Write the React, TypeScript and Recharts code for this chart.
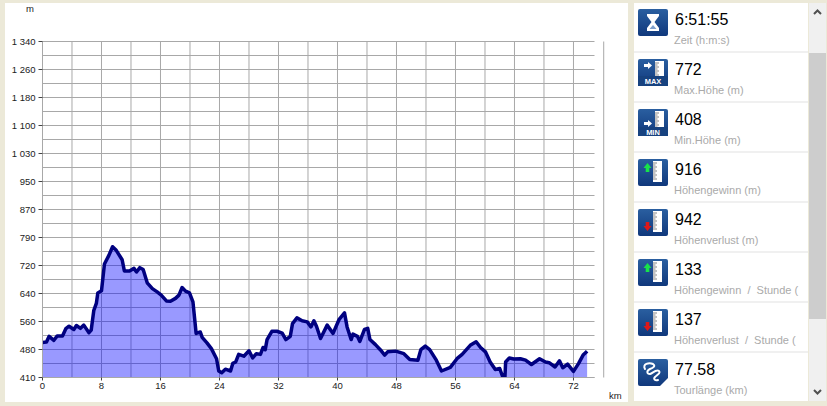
import React from 'react';
import { ComposedChart, Area, XAxis, YAxis, CartesianGrid, ReferenceLine } from 'recharts';

const distanceKm = [
  0, 0.54, 0.9, 1.54, 2.0, 2.71, 3.16, 3.6, 4.25, 4.6, 5.15, 5.6, 6.3, 6.6, 6.96, 7.3, 7.5, 8.0, 8.4, 9.0, 9.5, 10.0, 10.8, 11.1, 11.8, 12.4, 12.75, 13.2, 13.65, 14.2, 14.9, 15.55, 16.1, 16.8, 17.35, 18.03, 18.5, 18.93, 19.4, 19.93, 20.4, 20.65, 20.83, 21.4, 21.65, 22.3, 22.9, 23.6, 23.9, 24.3, 24.8, 25.5, 25.8, 26.2, 26.6, 27.3, 28.0, 28.5, 29, 29.55, 29.9, 30.2, 30.45, 31.1, 31.8, 32.5, 33.0, 33.6, 33.9, 34.5, 35.2, 35.9, 36.4, 36.8, 37.15, 37.7, 38.6, 39.4, 40.2, 40.95, 41.3, 41.85, 42.1, 42.7, 43.03, 43.66, 44.1, 44.4, 45.15, 45.8, 46.4, 46.8, 47.9, 49, 49.8, 50.9, 51.3, 51.9, 52.5, 53.4, 54.1, 55.3, 56.2, 56.9, 58, 58.8, 59.4, 60.06, 60.7, 61.4, 62, 62.4, 62.7, 62.8, 63.3, 63.9, 64.8, 65.5, 66.3, 67.4, 68.2, 68.7, 69.5, 70.1, 70.55, 71.2, 72, 72.7, 73.3, 73.85,
];
const elevationM = [
  507, 508, 524, 513, 525, 525, 545, 552, 543, 554, 546, 555, 534, 541, 596, 615, 644, 650, 724, 748, 772, 762, 736, 705, 705, 712, 702, 714, 709, 672, 656, 647, 638, 622, 621, 629, 638, 659, 649, 644, 619, 569, 532, 536, 521, 506, 490, 462, 428, 423, 433, 428, 449, 453, 474, 469, 484, 464, 476, 474, 493, 487, 515, 538, 538, 533, 515, 524, 559, 575, 567, 564, 550, 567, 552, 518, 555, 532, 570, 589, 550, 515, 530, 524, 510, 543, 546, 515, 501, 487, 472, 481, 483, 476, 460, 458, 487, 497, 487, 458, 428, 438, 462, 474, 499, 509, 493, 481, 453, 432, 435, 412, 408, 453, 464, 461, 462, 458, 446, 462, 453, 451, 439, 456, 437, 447, 427, 449, 472, 483,
];
const profile = distanceKm.map((km, i) => ({ km, m: elevationM[i] }));

const yTicks = [410, 487.5, 565, 642.5, 720, 797.5, 875, 952.5, 1030, 1107.5, 1185, 1262.5, 1340];
const yLabels = ['410', '480', '560', '640', '720', '790', '870', '950', '1 030', '1 100', '1 180', '1 260', '1 340'];
const yGrid = [448.75, 526.25, 603.75, 681.25, 758.75, 836.25, 913.75, 991.25, 1068.75, 1146.25, 1223.75, 1301.25, ...yTicks];
const xTicks = [0, 8, 16, 24, 32, 40, 48, 56, 64, 72];
const xGrid = [0, 4, 8, 12, 16, 20, 24, 28, 32, 36, 40, 44, 48, 52, 56, 60, 64, 68, 72];

const statValues = ['6:51:55', '772', '408', '916', '942', '133', '137', '77.58'];
const statLabels = ['Zeit (h:m:s)', 'Max.Höhe (m)', 'Min.Höhe (m)', 'Höhengewinn (m)', 'Höhenverlust (m)', 'Höhengewinn  /  Stunde (', 'Höhenverlust  /  Stunde (', 'Tourlänge (km)'];
const statIcons = ['time', 'max', 'min', 'up', 'down', 'up', 'down', 'tour'];

const FONT = '"Liberation Sans", Arial, sans-serif';

function Ruler({ x = 15 }: { x?: number }) {
  const marks = [4, 6, 8, 10, 12, 14, 16, 18, 20];
  return (
    <g>
      <rect x={x} y={2} width={9} height={21} fill="#fff" />
      {marks.map((y) => (
        <line key={y} x1={x} x2={x + (y % 4 === 0 ? 4 : 2.5)} y1={y} y2={y} stroke="#555" strokeWidth={0.7} />
      ))}
    </g>
  );
}

function Icon({ kind, id }: { kind: string; id: number }) {
  const gid = `g${id}`;
  return (
    <svg width={30} height={27} style={{ position: 'absolute', left: 4, top: 6 }}>
      <defs>
        <linearGradient id={gid} x1="0" y1="0" x2="0" y2="1">
          <stop offset="0" stopColor="#2a5fa0" />
          <stop offset="1" stopColor="#10387c" />
        </linearGradient>
      </defs>
      <rect width={30} height={27} rx={2} fill={`url(#${gid})`} />
      {kind === 'time' && <path d="M9 5h12v2l-4.5 6 4.5 6v3H9v-3l4.5-6L9 7z" fill="#fff" />}
      {kind === 'time' && <path d="M11.5 20h7l-3.5-4z" fill="#7fa0cc" />}
      {kind === 'max' && (
        <g>
          <Ruler x={17} />
          <path d="M6 5h4V3l4 3.5-4 3.5V8H6z" fill="#fff" />
          <rect x={0} y={17} width={30} height={10} fill="#17427f" />
          <text x={15} y={25} fontSize={7.5} fontWeight="bold" fill="#fff" textAnchor="middle" fontFamily={FONT}>MAX</text>
        </g>
      )}
      {kind === 'min' && (
        <g>
          <Ruler x={17} />
          <path d="M6 13h4v-2l4 3.5-4 3.5v-2H6z" fill="#fff" />
          <rect x={0} y={18} width={30} height={9} fill="#17427f" />
          <text x={15} y={25.5} fontSize={7.5} fontWeight="bold" fill="#fff" textAnchor="middle" fontFamily={FONT}>MIN</text>
        </g>
      )}
      {kind === 'up' && (
        <g>
          <Ruler />
          <path d="M9.5 4l4 5h-2.2v4H7.7V9H5.5z" fill="#18e24a" />
        </g>
      )}
      {kind === 'down' && (
        <g>
          <Ruler />
          <path d="M9.5 22l4-5h-2.2v-4H7.7v4H5.5z" fill="#e01818" />
        </g>
      )}
      {kind === 'tour' && (
        <g fill="none" stroke="#fff" strokeWidth={2} strokeLinecap="round">
          <path d="M7 10c-3-5 4-7 8-5 3 2 0 4-3 5-4 2-3 5 0 5 3-1 6-5 9-3 2 2-2 4-4 6-2 2 0 4 3 3" />
          <path d="M30 19l-8 8h8z" fill="#fff" stroke="none" />
        </g>
      )}
    </svg>
  );
}

function SidePanel() {
  return (
    <div style={{ position: 'absolute', left: 634, top: 3, width: 174, height: 398, background: '#f0f0f0', overflow: 'hidden' }}>
      {statValues.map((v, i) => (
        <div key={i} style={{ position: 'absolute', left: 0, top: i * 50, width: 174, height: 48, background: '#fff' }}>
          <Icon kind={statIcons[i]} id={i} />
          <div style={{ position: 'absolute', left: 41, top: 7, fontFamily: FONT, fontSize: 16, lineHeight: '20px', color: '#000', whiteSpace: 'nowrap' }}>{v}</div>
          <div style={{ position: 'absolute', left: 40, top: 30, fontFamily: FONT, fontSize: 11, lineHeight: '14px', color: '#aaa', whiteSpace: 'pre' }}>{statLabels[i]}</div>
        </div>
      ))}
    </div>
  );
}

function ScrollBar() {
  return (
    <div style={{ position: 'absolute', left: 809, top: 3, width: 17, height: 398, background: '#f0f0f0' }}>
      <div style={{ position: 'absolute', left: 0, top: 50, width: 17, height: 266, background: '#cdcdcd' }} />
      <svg width={17} height={398} style={{ position: 'absolute', left: 0, top: 0 }}>
        <path d="M5 11l3.5-3.5L12 11" fill="none" stroke="#505050" strokeWidth={2} />
        <path d="M5 387l3.5 3.5L12 387" fill="none" stroke="#505050" strokeWidth={2} />
      </svg>
    </div>
  );
}

export default function App() {
  return (
    <div style={{ position: 'absolute', left: 0, top: 0, width: 827, height: 406, background: '#ece9d8', overflow: 'hidden' }}>
      <div style={{ position: 'absolute', left: 5, top: 3, width: 623, height: 399, background: '#fff' }} />
      <div style={{ position: 'absolute', left: 0, top: 0 }}>
        <ComposedChart
          width={827}
          height={406}
          data={profile}
          margin={{ top: 41.5, right: 232.5, bottom: 0, left: 0 }}
        >
          <CartesianGrid stroke="#a8a8a8" strokeWidth={1} horizontalValues={yGrid} verticalValues={xGrid} />
          <XAxis
            dataKey="km"
            type="number"
            domain={[0, 74.85]}
            allowDataOverflow
            ticks={xTicks}
            interval={0}
            height={28.5}
            tickSize={3}
            tickMargin={2}
            axisLine={{ stroke: '#a8a8a8' }}
            tickLine={{ stroke: '#444' }}
            tick={{ fontSize: 9.5, fontFamily: FONT, fill: '#222' }}
          />
          <YAxis
            type="number"
            domain={[410, 1340]}
            allowDataOverflow
            ticks={yTicks}
            interval={0}
            width={42.5}
            tickSize={4}
            tickMargin={3}
            axisLine={{ stroke: '#a8a8a8' }}
            tickLine={{ stroke: '#444' }}
            tick={{ fontSize: 9.5, fontFamily: FONT, fill: '#222' }}
            tickFormatter={(v: number) => yLabels[yTicks.indexOf(v)]}
          />
          <ReferenceLine x={76.1} ifOverflow="visible" stroke="#a8a8a8" strokeWidth={1} />
          <Area
            type="linear"
            dataKey="m"
            baseValue={410}
            stroke="#000080"
            strokeWidth={3.5}
            strokeLinejoin="round"
            fill="#0000ff"
            fillOpacity={0.4}
            dot={false}
            activeDot={false}
            isAnimationActive={false}
          />
        </ComposedChart>
      </div>
      <div style={{ position: 'absolute', left: 26, top: 3, fontFamily: FONT, fontSize: 9.5, lineHeight: '12px', color: '#222' }}>m</div>
      <div style={{ position: 'absolute', left: 609, top: 390, fontFamily: FONT, fontSize: 9.5, lineHeight: '12px', color: '#222' }}>km</div>
      <SidePanel />
      <ScrollBar />
    </div>
  );
}
